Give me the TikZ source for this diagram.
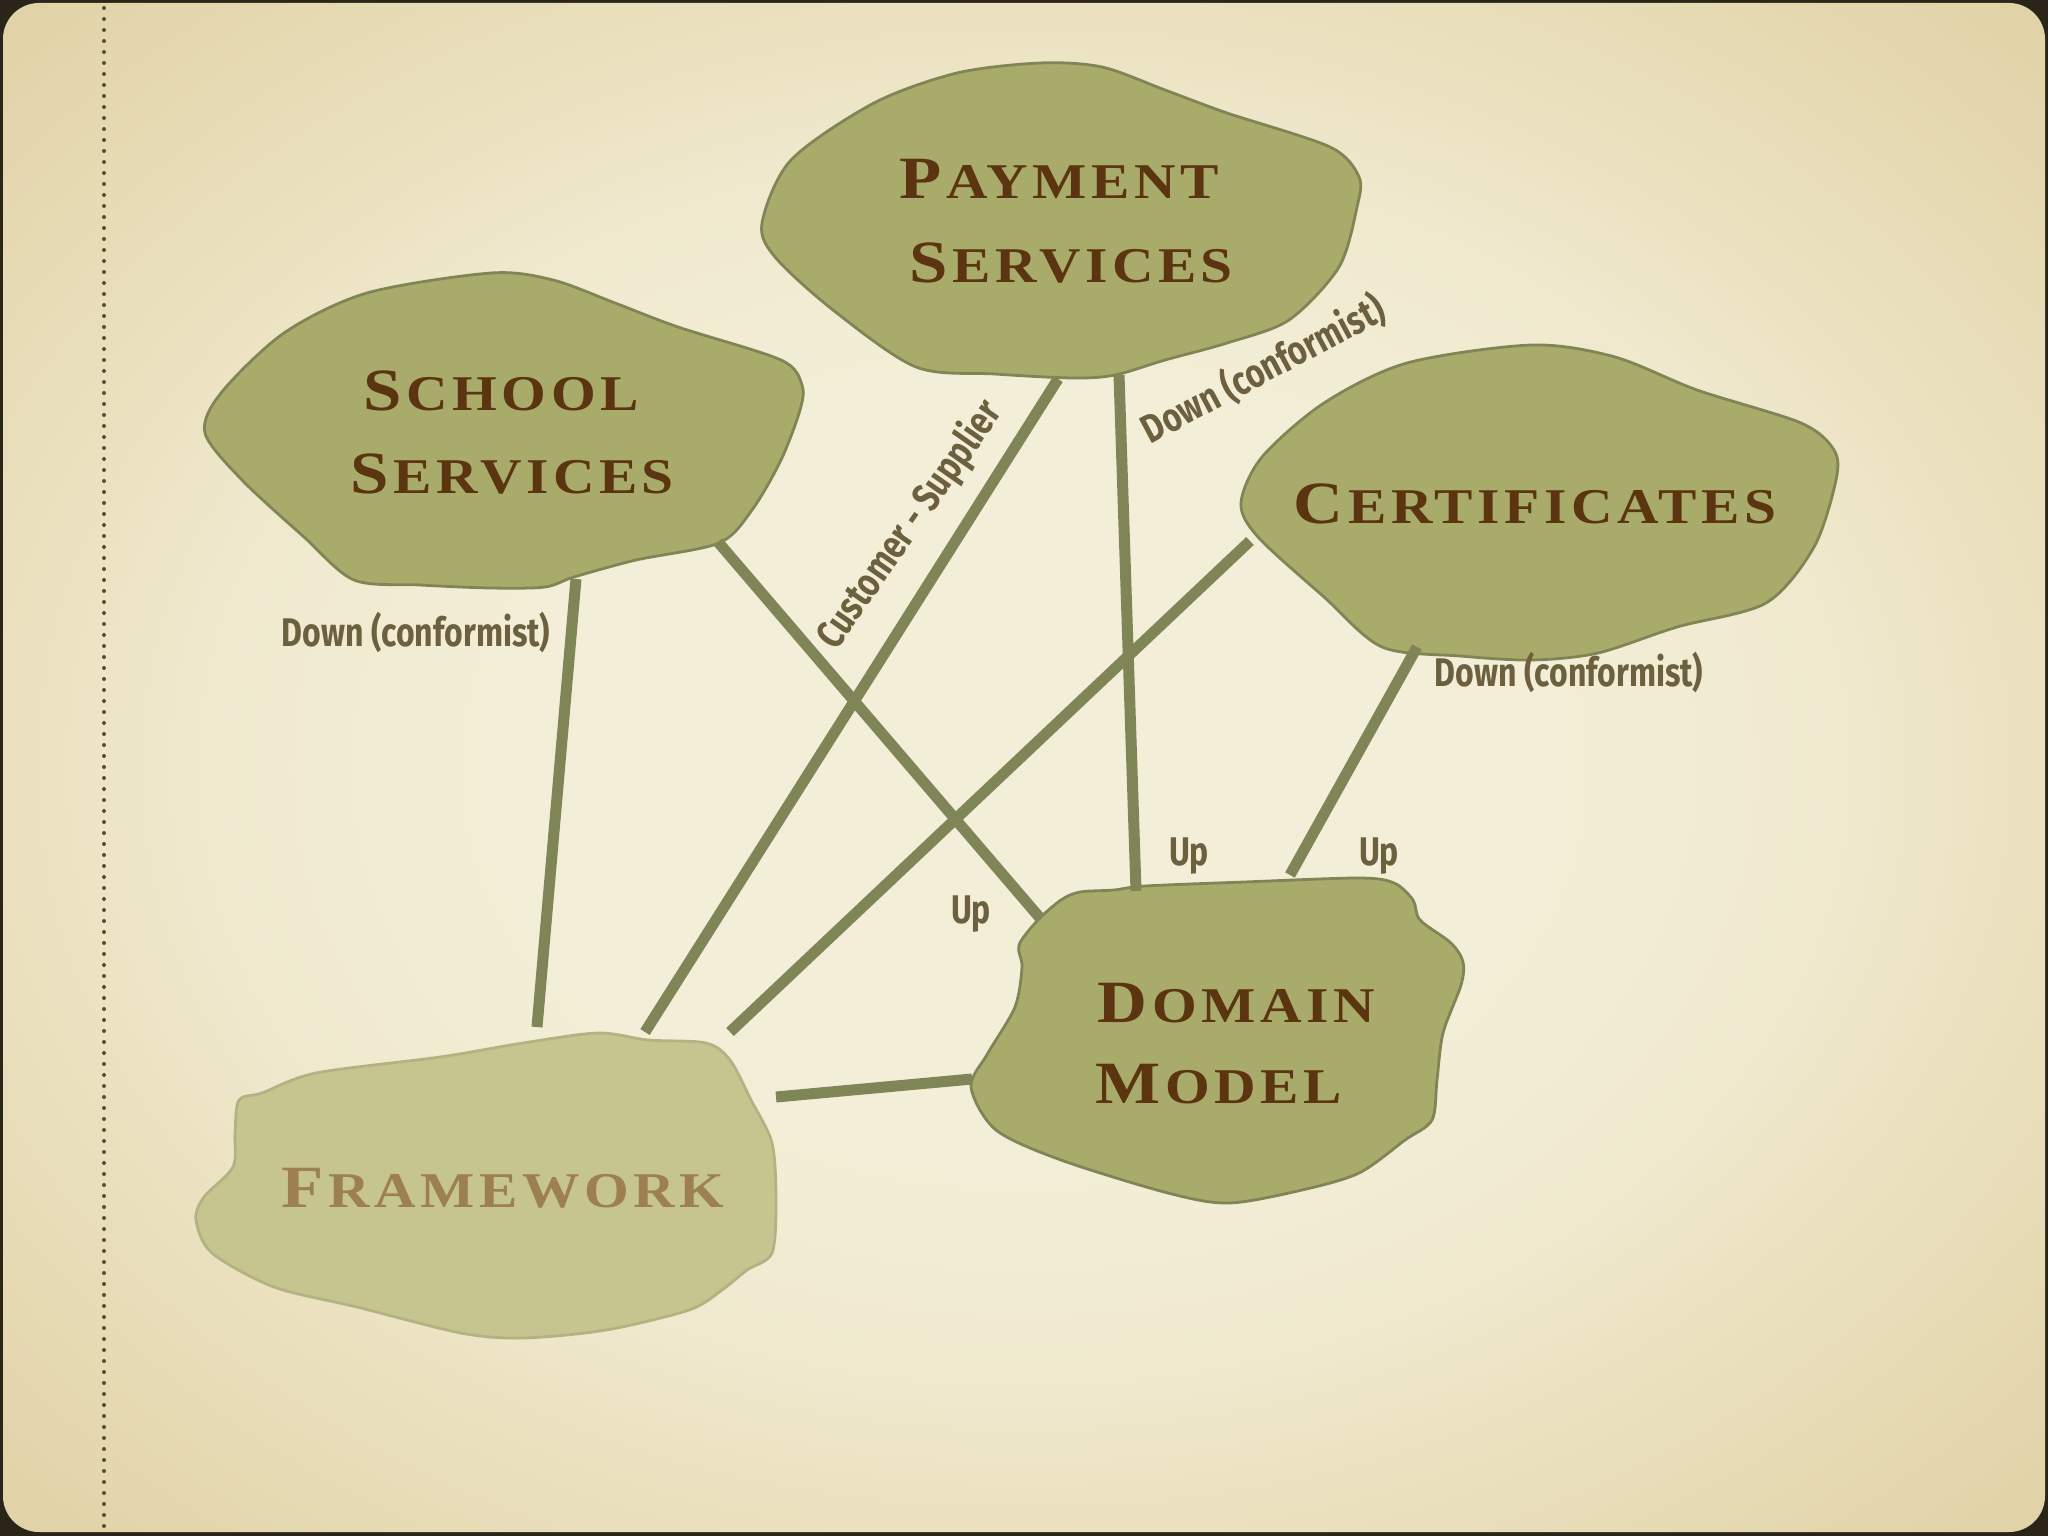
\documentclass[tikz,border=0pt]{standalone}
\usepackage{fontspec}
\newfontfamily\titlefont{Liberation Serif}[LetterSpace=9, FakeStretch=1.15]
\newfontfamily\handfont{Fira Sans}[FakeStretch=0.8]
\newcommand\capword[2]{{\fontsize{30}{30}\selectfont #1}\kern2.5pt{\fontsize{25}{25}\selectfont #2}}
\definecolor{frame}{HTML}{2B2519}
\definecolor{bgin}{HTML}{F3EED7}
\definecolor{bgmid}{HTML}{F0E9CE}
\definecolor{bgedge}{HTML}{EBE1BF}
\definecolor{bgout}{HTML}{E0D1A4}
\definecolor{blobfill}{HTML}{A9AB6B}
\definecolor{blobline}{HTML}{808555}
\definecolor{fwfill}{HTML}{C6C48F}
\definecolor{fwline}{HTML}{B3B283}
\definecolor{conn}{HTML}{808558}
\definecolor{titlec}{HTML}{5B3410}
\definecolor{fwtext}{HTML}{9C8050}
\definecolor{labc}{HTML}{6C603E}
\pgfdeclareradialshading{vign}{\pgfpoint{0bp}{0bp}}{color(0bp)=(bgin); color(13bp)=(bgin); color(20bp)=(bgmid); color(25bp)=(bgedge); color(36bp)=(bgout); color(50bp)=(bgout)}
\tikzset{
  blob/.style={fill=blobfill, draw=blobline, line width=1.4pt, line join=round},
  fwblob/.style={fill=fwfill, draw=fwline, line width=1.4pt, line join=round},
  link/.style={draw=conn, line width=5.5pt},
  title/.style={font=\titlefont\bfseries, text=titlec, inner sep=0pt, anchor=base},
  lab/.style={font=\handfont\bfseries\fontsize{20}{20}\selectfont, text=labc, inner sep=0pt}
}
\begin{document}
\begin{tikzpicture}[x=0.5pt, y=-0.5pt]
\useasboundingbox (0,0) rectangle (2048,1536);
% background
\fill[frame] (0,0) rectangle (2048,1536);
\shade[shading=vign, rounded corners=18pt] (3,3) rectangle (2045,1532);
\draw[draw=labc!80!black, line width=2pt, line cap=round, dash pattern=on 0pt off 5.5pt] (104,8) -- (104,1528);
% blobs
\filldraw[blob] plot[smooth cycle, tension=0.5] coordinates {(762,223) (791,160) (874,103) (957,73) (1040,63) (1102,67) (1165,90) (1227,113) (1330,147) (1359,177) (1357,207) (1339,267) (1289,320) (1227,343) (1165,360) (1115,375) (1073,378) (995,374) (916,367) (833,310) (775,257)};
\filldraw[blob] plot[smooth cycle, tension=0.5] coordinates {(205,433) (221,393) (284,333) (367,293) (491,273) (553,280) (615,303) (678,327) (781,360) (802,385) (800,410) (781,460) (752,510) (719,543) (636,560) (574,577) (545,587) (491,588) (420,585) (354,580) (304,537) (242,480)};
\filldraw[blob] plot[smooth cycle, tension=0.5] coordinates {(1241,503) (1262,457) (1324,403) (1407,363) (1532,345) (1615,357) (1697,390) (1801,423) (1834,450) (1836,480) (1814,547) (1766,603) (1677,627) (1598,653) (1532,660) (1460,656) (1382,647) (1324,597) (1258,537)};
\filldraw[blob] plot[smooth cycle, tension=0.5] coordinates {(1019,945) (1038,920) (1061,900) (1080,892) (1114,890) (1145,886) (1244,882) (1359,878) (1394,883) (1413,900) (1420,920) (1451,943) (1463,962) (1461,985) (1443,1033) (1437,1080) (1432,1120) (1405,1140) (1359,1173) (1302,1190) (1229,1203) (1168,1193) (1061,1160) (996,1130) (971,1087) (988,1053) (1015,1007) (1022,967)};
\filldraw[fwblob] plot[smooth cycle, tension=0.5] coordinates {(239,1100) (262,1093) (316,1073) (440,1057) (523,1043) (598,1033) (648,1040) (706,1043) (730,1060) (751,1100) (772,1143) (776,1200) (772,1253) (747,1270) (722,1290) (689,1310) (606,1330) (523,1338) (461,1333) (357,1307) (274,1287) (212,1253) (196,1220) (204,1197) (233,1167) (235,1133)};
% connector end points
\coordinate (ssA) at (576,579);  \coordinate (fwA) at (537,1027);
\coordinate (ssB) at (718,542);  \coordinate (dmA) at (1040,918);
\coordinate (psA) at (1058,379); \coordinate (fwB) at (645,1032);
\coordinate (psB) at (1119,375); \coordinate (dmB) at (1136,891);
\coordinate (ceA) at (1250,541); \coordinate (fwC) at (730,1032);
\coordinate (ceB) at (1417,647); \coordinate (dmC) at (1290,875);
\coordinate (fwD) at (776,1097); \coordinate (dmD) at (972,1079);
\draw[link] (ssA) -- (fwA);
\draw[link] (ssB) -- (dmA);
\draw[link] (psA) -- (fwB);
\draw[link] (psB) -- (dmB);
\draw[link] (ceA) -- (fwC);
\draw[link] (ceB) -- (dmC);
\draw[link] (fwD) -- (dmD);
% titles
\node[title] (pay1) at (1059,198) {\capword{P}{AYMENT}};
\node[title] (pay2) at (1071,282) {\capword{S}{ERVICES}};
\node[title] (sch1) at (501,410) {\capword{S}{CHOOL}};
\node[title] (sch2) at (512,493) {\capword{S}{ERVICES}};
\node[title] (cert) at (1535,523) {\capword{C}{ERTIFICATES}};
\node[title, anchor=base west] (dom1) at (1097,1022) {\capword{D}{OMAIN}};
\node[title, anchor=base west] (dom2) at (1095,1103) {\capword{M}{ODEL}};
\node[title, text=fwtext] (fw) at (503,1207) {\capword{F}{RAMEWORK}};
% labels
\node[lab] (l1) at (416,632) {Down (conformist)};
\node[lab, rotate=55] (l2) at (910,525) {Customer - Supplier};
\node[lab, rotate=28] (l3) at (1263,369) {Down (conformist)};
\node[lab] (l4) at (1569,672) {Down (conformist)};
\node[lab] (u1) at (971,914) {Up};
\node[lab] (u2) at (1189,856) {Up};
\node[lab] (u3) at (1379,856) {Up};
\end{tikzpicture}
\end{document}
